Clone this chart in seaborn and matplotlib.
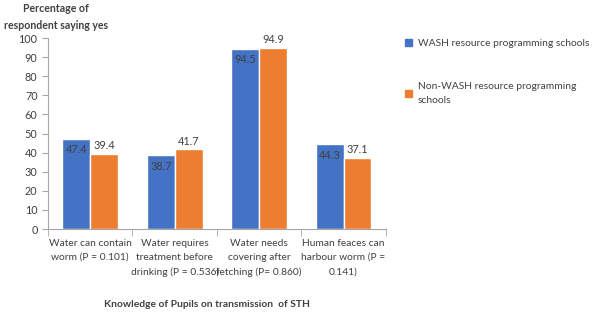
import pandas as pd
import matplotlib.pyplot as plt
import seaborn as sns

# Data
categories = ["Water can contain\nworm (P = 0.101)",
              "Water requires\ntreatment before\ndrinking (P = 0.536)",
              "Water needs\ncovering after\nfetching (P= 0.860)",
              "Human feaces can\nharbour worm (P =\n0.141)"]
wash = [47.4, 38.7, 94.5, 44.3]
non_wash = [39.4, 41.7, 94.9, 37.1]
series = ["WASH resource programming schools",
          "Non-WASH resource programming\nschools"]
colors = ["#4472C4", "#ED7D31"]

data = pd.DataFrame({
    "category": categories * 2,
    "value": wash + non_wash,
    "group": [series[0]] * 4 + [series[1]] * 4,
})

sns.set_style("white")
plt.rcParams["font.family"] = ["Lato", "DejaVu Sans"]
txt = "#404040"
fs = 7.4

fig = plt.figure(figsize=(6, 3.12), dpi=100)
ax = fig.add_axes([0.08, 0.266, 0.563, 0.612])

sns.barplot(data=data, x="category", y="value", hue="group",
            palette=colors, width=0.66, saturation=1, ax=ax, legend=False)

# blue labels sit inside the bar top, orange above
ax.bar_label(ax.containers[0], fmt="%.1f", padding=-12, fontsize=7.8, color=txt)
ax.bar_label(ax.containers[1], fmt="%.1f", padding=2, fontsize=7.8, color=txt)

ax.set_ylim(0, 100)
ax.set_xlim(-0.5, 3.5)
ax.set_yticks(range(0, 101, 10))
ax.set_xticks(range(4))
ax.set_xticklabels(categories, fontsize=fs, color=txt, linespacing=1.75)
ax.set_xticks([-0.5, 0.5, 1.5, 2.5, 3.5], minor=True)
ax.tick_params(axis="x", which="major", length=0, pad=7)
ax.tick_params(axis="x", which="minor", length=5, color="#a6a6a6", bottom=True)
ax.tick_params(axis="y", length=4, color="#a6a6a6", left=True, labelsize=7.8,
               labelcolor=txt)

for side in ["top", "right"]:
    ax.spines[side].set_visible(False)
for side in ["left", "bottom"]:
    ax.spines[side].set_color("#a6a6a6")
    ax.spines[side].set_linewidth(0.8)

ax.set_xlabel("")
ax.set_ylabel("")
fig.text(0.093, 0.99, "Percentage of\nrespondent saying yes", ha="center", va="top",
         fontsize=7.6, fontweight="bold", color=txt, linespacing=1.6)
fig.text(0.345, 0.01, "Knowledge of Pupils on transmission  of STH", ha="center",
         va="bottom", fontsize=fs, fontweight="bold", color=txt)

handles = [plt.Rectangle((0, 0), 1, 1, color=c) for c in colors]
fig.legend(handles, series, loc="upper left", bbox_to_anchor=(0.66, 0.905),
           frameon=False, fontsize=fs, handlelength=0.7, handleheight=0.7,
           handletextpad=0.5, labelspacing=3.3, labelcolor=txt)
for t in fig.legends[0].get_texts():
    t.set_linespacing(1.75)

fig.savefig("out.png", dpi=100)
